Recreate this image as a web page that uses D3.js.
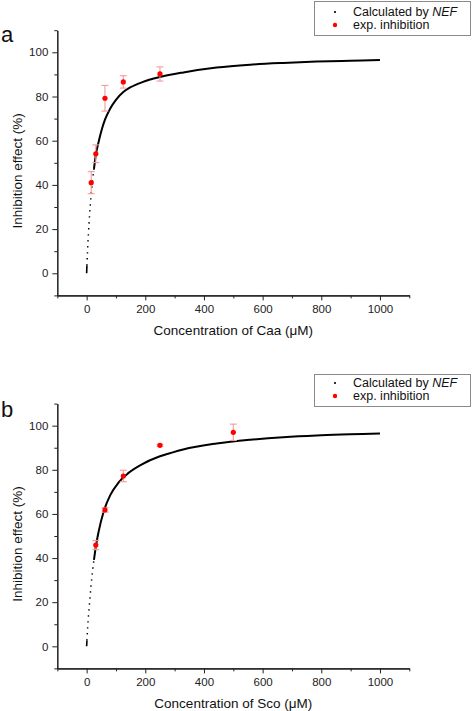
<!DOCTYPE html>
<html>
<head>
<meta charset="utf-8">
<script src="https://cdn.jsdelivr.net/npm/d3@7"></script>
<style>
  html, body { margin: 0; padding: 0; background: #fff; }
  svg { display: block; font-family: "Liberation Sans", Arial, sans-serif; }
</style>
</head>
<body>
<svg id="chart" width="472" height="711"></svg>
<script>
// ---------- Data ----------
// Panel a: Caa
const caaConc  = [15.625, 31.25, 62.5, 125, 250];
const caaInhib = [41.0, 54.1, 79.2, 86.6, 90.2];
const caaErr   = [5.0, 4.0, 5.8, 2.8, 3.2];
const caaNefX  = [0, 1, 3, 6, 10, 15, 20, 25, 31.25, 40, 50, 62.5, 80, 100, 125, 150, 190, 250, 330, 443, 557, 670, 784, 898, 1000];
const caaNefY  = [0, 3.5, 9.6, 17.6, 26.3, 35.0, 41.8, 47.3, 53.5, 59.0, 64.3, 69.5, 74.5, 78.5, 82.0, 84.2, 86.5, 88.8, 90.9, 93.1, 94.4, 95.2, 95.8, 96.2, 96.5];

// Panel b: Sco
const scoConc  = [31.25, 62.5, 125, 250, 500];
const scoInhib = [45.9, 61.8, 77.2, 91.1, 97.0];
const scoErr   = [2.1, 1.0, 2.6, 0.5, 3.7];
const scoNefX  = [0, 1, 3.4, 8.9, 14.7, 20.5, 25, 29.4, 40.9, 57.9, 80.5, 109, 143, 188.5, 245.5, 291, 329, 443, 557, 670, 784, 898, 1000];
const scoNefY  = [0, 2.6, 8.4, 18.1, 27.0, 34.5, 39.2, 43.5, 52.0, 61.0, 68.5, 74.3, 78.6, 82.5, 85.9, 87.8, 89.2, 91.9, 93.6, 94.8, 95.6, 96.1, 96.5];

// Axis ticks
const xMajorTicks = [0, 200, 400, 600, 800, 1000];
const xMinorTicks = [-100, 100, 300, 500, 700, 900, 1100];
const yMajorTicks = [0, 20, 40, 60, 80, 100];
const yMinorTicks = [-10, 10, 30, 50, 70, 90, 110];

const panelLetters = ["a", "b"];
const xTitles = ["Concentration of Caa (", "Concentration of Sco ("];
const yTitle = "Inhibition effect (%)";
const legendLabels = ["Calculated by ", "exp. inhibition"];

// ---------- Drawing ----------
const svg = d3.select("#chart");

const panels = [
  { letter: panelLetters[0], xTitle: xTitles[0], conc: caaConc, inhib: caaInhib, err: caaErr,
    nefX: caaNefX, nefY: caaNefY, dotLimit: 25,
    yRange: [295.4, 30.2], letterY: 42, legend: { x: 314, y: 1, w: 156, h: 34, row1: 16, row2: 29 } },
  { letter: panelLetters[1], xTitle: xTitles[1], conc: scoConc, inhib: scoInhib, err: scoErr,
    nefX: scoNefX, nefY: scoNefY, dotLimit: 25,
    yRange: [668.4, 403.6], letterY: 417, legend: { x: 314, y: 374, w: 156, h: 32, row1: 387, row2: 400 } }
];

const errColor = "#f59a9a";

panels.forEach(p => {
  const x = d3.scaleLinear().domain([-100, 1100]).range([57.3, 409.3]);
  const y = d3.scaleLinear().domain([-10, 110]).range(p.yRange);
  const g = svg.append("g");
  const y0 = p.yRange[0];

  // X axis (major with labels, minor without)
  const xAxis = d3.axisBottom(x).tickValues(xMajorTicks).tickSize(5).tickSizeOuter(0).tickPadding(4)
    .tickFormat(d3.format("d"));
  const gx = g.append("g").attr("transform", `translate(0,${y0})`).call(xAxis);
  gx.selectAll("text").attr("font-size", 11.5).attr("fill", "#222").attr("font-family", "Liberation Sans, Arial, sans-serif");
  g.append("g").attr("transform", `translate(0,${y0})`)
    .call(d3.axisBottom(x).tickValues(xMinorTicks).tickSize(3).tickSizeOuter(0).tickFormat(""));

  // Y axis
  const yAxis = d3.axisLeft(y).tickValues(yMajorTicks).tickSize(5).tickSizeOuter(0).tickPadding(4)
    .tickFormat(d3.format("d"));
  const gy = g.append("g").attr("transform", `translate(${x(-100)},0)`).call(yAxis);
  gy.selectAll("text").attr("font-size", 11.5).attr("fill", "#222").attr("font-family", "Liberation Sans, Arial, sans-serif");
  g.append("g").attr("transform", `translate(${x(-100)},0)`)
    .call(d3.axisLeft(y).tickValues(yMinorTicks).tickSize(3).tickSizeOuter(0).tickFormat(""));

  g.selectAll(".domain").attr("stroke", "#222").attr("stroke-width", 1.1);
  g.selectAll(".tick line").attr("stroke", "#222").attr("stroke-width", 1);

  // Axis titles
  const xt = g.append("text")
    .attr("x", x(500)).attr("y", y0 + 40)
    .attr("text-anchor", "middle").attr("font-size", 13.5).attr("fill", "#111");
  xt.append("tspan").text(p.xTitle);
  xt.append("tspan").text("\u03bcM)");

  g.append("text")
    .attr("transform", `translate(22,${(p.yRange[0] + p.yRange[1]) / 2 + 8}) rotate(-90)`)
    .attr("text-anchor", "middle").attr("font-size", 13.5).attr("fill", "#111")
    .text(yTitle);

  // Panel letter
  g.append("text").attr("x", 1).attr("y", p.letterY)
    .attr("font-size", 22).attr("fill", "#111").text(p.letter);

  // NEF curve: short solid start, dotted steep part, solid remainder
  const pts = p.nefX.map((v, i) => [v, p.nefY[i]]);
  const line = d3.line().x(d => x(d[0])).y(d => y(d[1])).curve(d3.curveMonotoneX);
  const startSeg = pts.slice(0, 2);
  const dotSeg = pts.filter(d => d[0] >= pts[1][0] && d[0] <= p.dotLimit);
  const solidSeg = pts.filter(d => d[0] >= p.dotLimit);

  g.append("path").datum(startSeg).attr("d", d3.line().x(d => x(d[0])).y(d => y(d[1])))
    .attr("fill", "none").attr("stroke", "#000").attr("stroke-width", 1.6);
  g.append("path").datum(dotSeg).attr("d", line)
    .attr("fill", "none").attr("stroke", "#000").attr("stroke-width", 1.5)
    .attr("stroke-dasharray", "1.4,4.6");
  g.append("path").datum(solidSeg).attr("d", line)
    .attr("fill", "none").attr("stroke", "#000").attr("stroke-width", 2);

  // Error bars
  const eb = g.append("g").attr("stroke", errColor).attr("stroke-width", 1.1).attr("fill", "none");
  p.conc.forEach((c, i) => {
    const cx = x(c), yt = y(p.inhib[i] + p.err[i]), yb = y(p.inhib[i] - p.err[i]);
    eb.append("line").attr("x1", cx).attr("x2", cx).attr("y1", yt).attr("y2", yb);
    eb.append("line").attr("x1", cx - 3.5).attr("x2", cx + 3.5).attr("y1", yt).attr("y2", yt);
    eb.append("line").attr("x1", cx - 3.5).attr("x2", cx + 3.5).attr("y1", yb).attr("y2", yb);
  });

  // Points
  g.selectAll(".pt").data(p.conc).enter().append("circle")
    .attr("cx", d => x(d)).attr("cy", (d, i) => y(p.inhib[i])).attr("r", 2.6)
    .attr("fill", "#f00");

  // Legend
  const L = p.legend;
  g.append("rect").attr("x", L.x + 0.5).attr("y", L.y + 0.5).attr("width", L.w).attr("height", L.h)
    .attr("fill", "#fff").attr("stroke", "#8a8a8a").attr("stroke-width", 1);
  g.append("circle").attr("cx", 335).attr("cy", L.row1 - 4).attr("r", 1.1).attr("fill", "#000");
  g.append("circle").attr("cx", 335).attr("cy", L.row2 - 4).attr("r", 2.2).attr("fill", "#f00");
  const t1 = g.append("text").attr("x", 353).attr("y", L.row1).attr("font-size", 12.5).attr("fill", "#111");
  t1.append("tspan").text(legendLabels[0]);
  t1.append("tspan").attr("font-style", "italic").text("NEF");
  g.append("text").attr("x", 353).attr("y", L.row2).attr("font-size", 12.5).attr("fill", "#111")
    .text(legendLabels[1]);
});
</script>
</body>
</html>
